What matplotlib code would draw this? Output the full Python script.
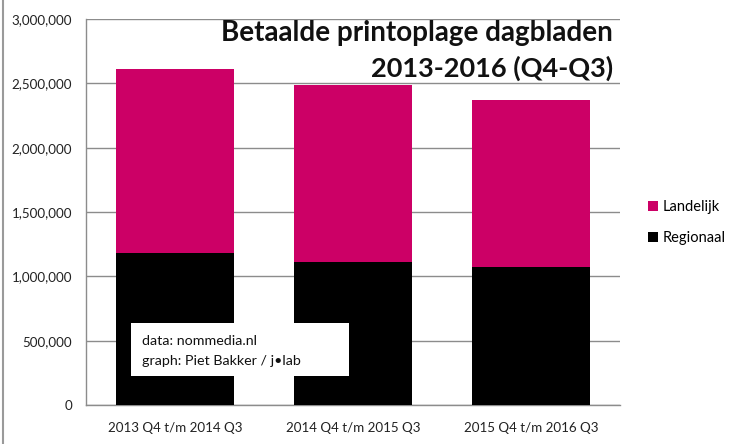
import matplotlib
matplotlib.use("Agg")
import matplotlib.pyplot as plt
from matplotlib.patches import Patch
from matplotlib.ticker import FuncFormatter

categories = ["2013 Q4 t/m 2014 Q3", "2014 Q4 t/m 2015 Q3", "2015 Q4 t/m 2016 Q3"]
regionaal = [1179000, 1109000, 1070000]
landelijk = [1432000, 1381000, 1300000]
yticks = [0, 500000, 1000000, 1500000, 2000000, 2500000, 3000000]

MAGENTA = "#CC0066"
GRID = "#8c8c8c"

plt.rcParams['font.family'] = ['Lato', 'DejaVu Sans']

fig = plt.figure(figsize=(7.4, 4.44), dpi=100)
fig.patch.set_facecolor("white")
ax = fig.add_axes([86/740, 39/444, 534/740, 386/444])

x = list(range(len(categories)))
ax.bar(x, regionaal, width=0.66, color="black", zorder=3, label="Regionaal")
ax.bar(x, landelijk, width=0.66, bottom=regionaal, color=MAGENTA, zorder=3, label="Landelijk")

ax.set_xlim(-0.5, 2.5)
ax.set_ylim(0, 3000000)
ax.set_yticks(yticks)
ax.yaxis.set_major_formatter(FuncFormatter(lambda v, p: f"{int(v):,}"))
ax.set_xticks(x)
ax.set_xticklabels(categories)
ax.tick_params(axis='both', length=0, labelsize=9.6, colors="#222222")
ax.tick_params(axis='y', pad=10)
ax.tick_params(axis='x', pad=12)
ax.grid(axis='y', color=GRID, linewidth=1, zorder=0)
for s in ["top", "right"]:
    ax.spines[s].set_visible(False)
for s in ["left", "bottom"]:
    ax.spines[s].set_color(GRID)
    ax.spines[s].set_linewidth(1)

fig.text(613/740, 1 - 33/444, "Betaalde printoplage dagbladen", ha="right", va="center",
         fontsize=20, fontweight="bold", color="#111111")
fig.text(613/740, 1 - 68/444, "2013-2016 (Q4-Q3)", ha="right", va="center",
         fontsize=19.5, fontweight="bold", color="#111111")

# credit box
fig.patches.append(matplotlib.patches.Rectangle((131/740, 1 - 376/444), 218/740, 53/444,
                   transform=fig.transFigure, facecolor="white", edgecolor="none", zorder=5))
fig.text(142/740, 1 - 340.5/444, "data: nommedia.nl", ha="left", va="center",
         fontsize=10.3, color="#111111", zorder=6)
fig.text(142/740, 1 - 360.5/444, "graph: Piet Bakker / j\u2022lab", ha="left", va="center",
         fontsize=10.3, color="#111111", zorder=6)

handles = [Patch(facecolor=MAGENTA, label="Landelijk"), Patch(facecolor="black", label="Regionaal")]
fig.legend(handles=handles, loc="center left", bbox_to_anchor=(635/740, 1 - 222.5/444),
           frameon=False, fontsize=10.5, handlelength=0.65, handleheight=0.65,
           handletextpad=0.35, labelspacing=1.15)

# left border line of the image
fig.add_artist(plt.Line2D([2.5/740, 2.5/740], [0, 1], transform=fig.transFigure,
                          color="#9a9a9a", linewidth=1.5))

fig.savefig("out.png", dpi=100, facecolor="white")
